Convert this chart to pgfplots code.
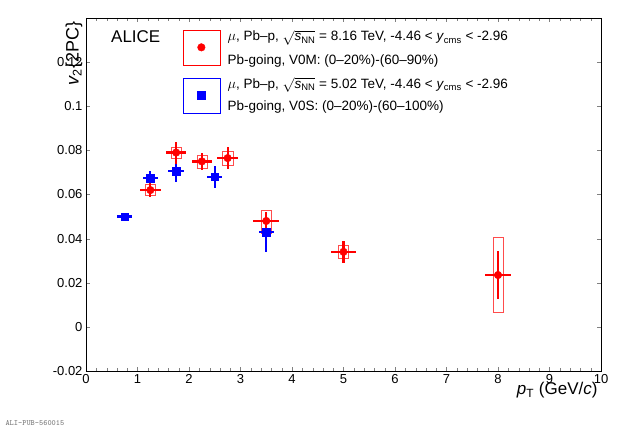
\documentclass[border=0pt]{standalone}
\usepackage{pgfplots}
\pgfplotsset{compat=1.18}
\usepackage{fontspec}
\setmainfont{Liberation Sans}
\newcommand{\sNN}{$\sqrt{\mbox{\textit{s}\textsubscript{NN}}}$}
\begin{document}
\begin{tikzpicture}[x=1pt,y=1pt]
\path (0,0) rectangle (620,433);
\begin{axis}[at={(86pt,62pt)},anchor=south west,scale only axis,width=515pt,height=353pt,
 xmin=0,xmax=10,ymin=-0.02,ymax=0.14,
 xtick={0,1,...,10},ytick={-0.02,0,0.02,...,0.14},
 minor x tick num=4,minor y tick num=3,
 tick align=inside,ticklabel style={font=\fontsize{13}{13}\selectfont},
 yticklabel style={/pgf/number format/fixed},
 /pgf/number format/assume math mode=true,
 xlabel={\fontsize{17}{17}\selectfont \textit{p}\textsubscript{T} (GeV/\textit{c})},
 ylabel={\fontsize{18}{18}\selectfont \textit{v}\textsubscript{2}\{2PC\}},
 xlabel style={at={(1,0)},anchor=north east,yshift=-8pt},
 ylabel style={at={(ticklabel* cs:1)},anchor=south east},
 clip=false]
% sys boxes red
\addplot[red!70,thin] coordinates {(1.15,0.0595)(1.35,0.0595)(1.35,0.0645)(1.15,0.0645)(1.15,0.0595)};
\addplot[red!70,thin] coordinates {(1.65,0.0765)(1.85,0.0765)(1.85,0.0815)(1.65,0.0815)(1.65,0.0765)};
\addplot[red!70,thin] coordinates {(2.15,0.072)(2.35,0.072)(2.35,0.078)(2.15,0.078)(2.15,0.072)};
\addplot[red!70,thin] coordinates {(2.65,0.0735)(2.85,0.0735)(2.85,0.0795)(2.65,0.0795)(2.65,0.0735)};
\addplot[red!70,thin] coordinates {(3.4,0.0425)(3.6,0.0425)(3.6,0.053)(3.4,0.053)(3.4,0.0425)};
\addplot[red!70,thin] coordinates {(4.9,0.031)(5.1,0.031)(5.1,0.037)(4.9,0.037)(4.9,0.031)};
\addplot[red!70,thin] coordinates {(7.9,0.0065)(8.1,0.0065)(8.1,0.0405)(7.9,0.0405)(7.9,0.0065)};
% blue
\addplot[blue,only marks,mark=square*,mark size=3.8pt,
 error bars/.cd,x dir=both,x explicit,y dir=both,y explicit,error bar style={line width=2.2pt},error mark=none]
 coordinates {(0.75,0.050)+-(0.15,0.001)(1.25,0.0675)+-(0.15,0.003)(1.75,0.0705)+-(0.15,0.005)(2.5,0.068)+-(0.15,0.005)(3.5,0.043)+-(0.15,0.009)};
% red
\addplot[red,only marks,mark=*,mark size=3.8pt,
 error bars/.cd,x dir=both,x explicit,y dir=both,y explicit,error bar style={line width=2.2pt},error mark=none]
 coordinates {(1.25,0.062)+-(0.2,0.003)(1.75,0.079)+-(0.2,0.005)(2.25,0.075)+-(0.2,0.004)(2.75,0.0765)+-(0.2,0.005)(3.5,0.048)+-(0.25,0.004)(5,0.034)+-(0.25,0.005)(8,0.0235)+-(0.25,0.011)};
% legend
\addplot[red,only marks,mark=*,mark size=3.8pt] coordinates {(2.24,0.1267)};
\addplot[blue,only marks,mark=square*,mark size=3.8pt] coordinates {(2.24,0.105)};
\draw[red] (axis cs:1.88,0.1187) rectangle (axis cs:2.6,0.1346);
\draw[blue] (axis cs:1.88,0.097) rectangle (axis cs:2.6,0.1128);
\node[anchor=base west,font=\fontsize{17}{17}\selectfont] at (axis cs:0.42,0.1290) {ALICE};
\node[anchor=base west,font=\fontsize{13.5}{13.5}\selectfont] at (axis cs:2.68,0.1296) {$\mu$, Pb--p, \sNN\ = 8.16 TeV, -4.46 < \textit{y}\textsubscript{cms} < -2.96};
\node[anchor=base west,font=\fontsize{13.5}{13.5}\selectfont] at (axis cs:2.68,0.1190) {Pb-going, V0M: (0--20\%)-(60--90\%)};
\node[anchor=base west,font=\fontsize{13.5}{13.5}\selectfont] at (axis cs:2.68,0.1082) {$\mu$, Pb--p, \sNN\ = 5.02 TeV, -4.46 < \textit{y}\textsubscript{cms} < -2.96};
\node[anchor=base west,font=\fontsize{13.5}{13.5}\selectfont] at (axis cs:2.68,0.0980) {Pb-going, V0S: (0--20\%)-(60--100\%)};
\end{axis}
\node[anchor=south west,font=\ttfamily\bfseries\fontsize{8}{8}\selectfont,gray] at (2,4) {ALI-PUB-560015};
\end{tikzpicture}
\end{document}
